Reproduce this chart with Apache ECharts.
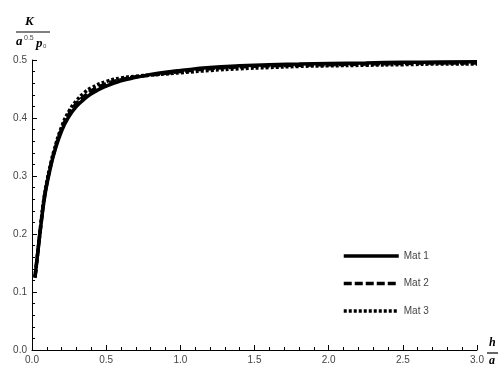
<!DOCTYPE html>
<html>
<head>
<meta charset="utf-8">
<script src="https://cdn.jsdelivr.net/npm/echarts@6/dist/echarts.min.js"></script>
<style>html,body{margin:0;padding:0;background:#fff}#c{width:500px;height:367px}</style>
</head>
<body>
<div id="c"></div>
<script>
var hValues = [0.02,0.04,0.06,0.08,0.1,0.125,0.15,0.2,0.25,0.3,0.35,0.4,0.5,0.6,0.7,0.8,0.9,1.0,1.2,1.4,1.6,1.8,2.0,2.25,2.5,2.75,3.0];
var mat1 = [0.125,0.17,0.215,0.255,0.285,0.315,0.34,0.378,0.403,0.42,0.432,0.442,0.455,0.464,0.47,0.475,0.479,0.482,0.487,0.490,0.492,0.493,0.494,0.495,0.496,0.4965,0.497];
var mat2 = [0.125,0.171,0.216,0.257,0.287,0.317,0.342,0.381,0.407,0.425,0.437,0.447,0.459,0.466,0.471,0.474,0.477,0.480,0.485,0.488,0.490,0.491,0.492,0.493,0.494,0.495,0.495];
var mat3 = [0.125,0.172,0.218,0.26,0.29,0.32,0.345,0.385,0.412,0.43,0.443,0.452,0.463,0.469,0.472,0.474,0.476,0.478,0.482,0.485,0.487,0.489,0.490,0.491,0.492,0.493,0.493];
var seriesNames = ['Mat 1','Mat 2','Mat 3'];

function pairs(ys){ return hValues.map(function(h,i){ return [h, ys[i]]; }); }

var chart = echarts.init(document.getElementById('c'), null, {renderer:'canvas'});
var labelStyle = {fontFamily:'Liberation Sans, Arial, sans-serif', fontSize:10, color:'#444'};
var ser = [
  {name:seriesNames[0], data:pairs(mat1), dash:'solid'},
  {name:seriesNames[1], data:pairs(mat2), dash:[8,3]},
  {name:seriesNames[2], data:pairs(mat3), dash:[3,2]}
].map(function(s){
  return {type:'line', name:s.name, data:s.data, symbol:'none', smooth:true, animation:false,
    lineStyle:{color:'#000', width:3.5, type:s.dash}, itemStyle:{color:'#000'}};
});

chart.setOption({
  animation:false,
  grid:{left:32, right:23, top:60, bottom:17, containLabel:false},
  legend:{orient:'vertical', left:342, top:251, padding:0, itemWidth:55, itemHeight:10, itemGap:17.5,
    itemStyle:{opacity:0},
    lineStyle:{width:3.5},
    textStyle:{fontFamily:'Liberation Sans, Arial, sans-serif', fontSize:10, color:'#444'},
    data:seriesNames},
  xAxis:{type:'value', min:0, max:3, interval:0.5,
    axisLine:{lineStyle:{color:'#000', width:1}},
    axisTick:{inside:true, length:5, lineStyle:{color:'#000'}},
    minorTick:{show:true, splitNumber:5, length:3, lineStyle:{color:'#000'}},
    splitLine:{show:false},
    axisLabel:Object.assign({margin:5, formatter:function(v){return v.toFixed(1);}}, labelStyle)},
  yAxis:{type:'value', min:0, max:0.5, interval:0.1,
    axisLine:{show:true, lineStyle:{color:'#000', width:1}},
    axisTick:{show:true, inside:true, length:5, lineStyle:{color:'#000'}},
    minorTick:{show:true, splitNumber:5, length:3, lineStyle:{color:'#000'}},
    splitLine:{show:false},
    axisLabel:Object.assign({margin:5, formatter:function(v){return v.toFixed(1);}}, labelStyle)},
  graphic:[
    {type:'text', left:25, top:15, style:{text:'K', font:'italic bold 13px "Liberation Serif", serif', fill:'#000'}},
    {type:'line', shape:{x1:16, y1:32, x2:50, y2:32}, style:{stroke:'#000', lineWidth:1.2}},
    {type:'text', left:16, top:35, style:{text:'a', font:'italic bold 13px "Liberation Serif", serif', fill:'#000'}},
    {type:'text', left:24, top:35, style:{text:'0.5', font:'7px "Liberation Sans", sans-serif', fill:'#444'}},
    {type:'text', left:36, top:37, style:{text:'p', font:'italic bold 13px "Liberation Serif", serif', fill:'#000'}},
    {type:'text', left:43, top:43, style:{text:'0', font:'6px "Liberation Sans", sans-serif', fill:'#444'}},
    {type:'text', left:489, top:337, style:{text:'h', font:'italic bold 12px "Liberation Serif", serif', fill:'#000'}},
    {type:'line', shape:{x1:487, y1:353, x2:498, y2:353}, style:{stroke:'#000', lineWidth:1.2}},
    {type:'text', left:489, top:355, style:{text:'a', font:'italic bold 12px "Liberation Serif", serif', fill:'#000'}}
  ],
  series:ser
});
</script>
</body>
</html>
